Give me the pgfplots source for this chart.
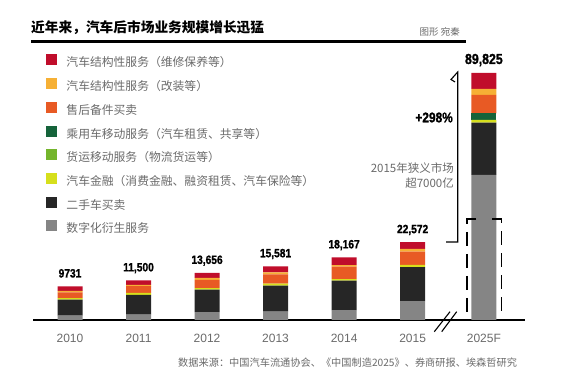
\documentclass[border=0pt]{standalone}
\usepackage{pgfplots}
\pgfplotsset{compat=1.18}
\usepackage{pgfplotstable}
\usepackage{fontspec}
\setmainfont{Noto Sans CJK SC}
\newfontfamily\numfont[FakeStretch=0.85, BoldFeatures={FakeBold=1.2}]{Liberation Sans}
\newfontfamily\latin{Liberation Sans}
\definecolor{cRed}{HTML}{C00D2B}
\definecolor{cYel}{HTML}{F6B035}
\definecolor{cOra}{HTML}{E85A24}
\definecolor{cDGr}{HTML}{15633A}
\definecolor{cGrn}{HTML}{74B52C}
\definecolor{cYG}{HTML}{D6DF1C}
\definecolor{cBlk}{HTML}{262626}
\definecolor{cGry}{HTML}{858585}
\definecolor{txt}{HTML}{6A6A6A}

\pgfplotstableread{
x    gray  black fin grn dgr  ora  yel  red
0    1250  4650  450 0   0    1650 450  1280
1    1550  5750  550 0   0    2000 350  1300
2    2256  6520  500 0   0    2340 580  1460
3    2451  7500  580 0   0    2720 580  1750
4    2887  8500  490 0   0    3570 490  2230
5    5462  9860  670 0   0    3860 780  1940
6.04 42050 15170 780 0   1940 5310 1740 4640
}\data

\begin{document}
\begin{tikzpicture}
\useasboundingbox (0pt,0pt) rectangle (583pt,377pt);
\begin{axis}[
  at={(33pt,57pt)}, anchor=south west,
  scale only axis, width=492pt, height=259.5pt,
  xmin=-0.54, xmax=6.64, ymin=0, ymax=75255,
  enlargelimits=false,
  ybar stacked, bar width=25pt,
  axis x line*=bottom, axis y line=none,
  x axis line style={line width=1.6pt, -},
  xtick={0,1,2,3,4,5,6.04},
  xticklabels={2010,2011,2012,2013,2014,2015,2025F},
  xtick style={draw=none},
  major tick length=0pt,
  xticklabel style={anchor=center, yshift=-18.3pt, font=\latin\fontsize{12}{12}\selectfont, text=txt},
  ytick=\empty,
  clip=false,
  reverse legend,
  legend cell align=left,
  legend style={at={(0.02642,1.0231)}, anchor=north west, draw=none, fill=none,
    inner sep=0pt, outer sep=0pt, row sep=9.2pt, column sep=9.5pt,
    font=\fontsize{11.8}{12}\selectfont, text=txt,
    nodes={inner sep=0pt, text height=8pt, text depth=2pt}},
  legend image code/.code={\fill[#1] (0pt,-1.5pt) rectangle (11pt,9.5pt);},
]
\addplot[fill=cGry, draw=none] table[x=x,y=gray]{\data};
\addlegendentry{数字化衍生服务}
\addplot[fill=cBlk, draw=none] table[x=x,y=black]{\data};
\addlegendentry{二手车买卖}
\addplot[fill=cYG, draw=none] table[x=x,y=fin]{\data};
\addlegendentry{汽车金融（消费金融、融资租赁、汽车保险等）}
\addplot[fill=cGrn, draw=none] table[x=x,y=grn]{\data};
\addlegendentry{货运移动服务（物流货运等）}
\addplot[fill=cDGr, draw=none] table[x=x,y=dgr]{\data};
\addlegendentry{乘用车移动服务（汽车租赁、共享等）}
\addplot[fill=cOra, draw=none] table[x=x,y=ora]{\data};
\addlegendentry{售后备件买卖}
\addplot[fill=cYel, draw=none] table[x=x,y=yel]{\data};
\addlegendentry{汽车结构性服务（改装等）}
\addplot[fill=cRed, draw=none] table[x=x,y=red]{\data};
\addlegendentry{汽车结构性服务（维修保养等）}

\tikzset{vl/.style={anchor=base, yshift=9pt, inner sep=0pt, font=\numfont\bfseries\fontsize{12}{12}\selectfont}}
\node[vl] at (axis cs:0,9731) {9731};
\node[vl] at (axis cs:1,11500) {11,500};
\node[vl] at (axis cs:2,13656) {13,656};
\node[vl] at (axis cs:3,15581) {15,581};
\node[vl] at (axis cs:4,18167) {18,167};
\node[vl] at (axis cs:5,22572) {22,572};
\node[vl, font=\numfont\bfseries\fontsize{14.5}{14.5}\selectfont] at (axis cs:6.04,71630) {89,825};
\end{axis}

% title and rule
\node[anchor=west, inner sep=0pt, font=\bfseries\fontsize{13.7}{14}\selectfont] at (31pt,349.5pt) {近年来，汽车后市场业务规模增长迅猛};
\node[anchor=east, inner sep=0pt, font=\fontsize{9.5}{10}\selectfont, text=txt] at (460pt,345.5pt) {图形 宛秦};
\draw[line width=3pt] (31pt,335.5pt) -- (466pt,335.5pt);

% growth bracket
\draw[line width=1.1pt] (446pt,135pt) -- (457.7pt,135pt) -- (457.7pt,305pt) -- (451pt,297.5pt) -- (455pt,295pt);
\node[anchor=east, inner sep=0pt, font=\numfont\bfseries\fontsize{14}{14}\selectfont] at (453pt,259.5pt) {+298\%};
\node[anchor=east, inner sep=0pt, align=right, font=\fontsize{11.5}{15.5}\selectfont, text=txt] at (454pt,201.5pt) {2015年狭义市场\\超7000亿};

% dashed frame
\draw[line width=1.5pt, dash pattern=on 14pt off 8pt] (476pt,158pt) -- (467pt,158pt) -- (467pt,57pt);
\draw[line width=1.5pt, dash pattern=on 14pt off 8pt] (492pt,158pt) -- (501.5pt,158pt) -- (501.5pt,57pt);

% axis break
\draw[line width=1.1pt] (434.3pt,45.3pt) -- (450pt,65.3pt);
\draw[line width=1.1pt] (441.7pt,45.3pt) -- (456.7pt,65.3pt);

% source
\node[anchor=west, inner sep=0pt, font=\fontsize{10.2}{11}\selectfont, text=txt] at (178pt,14pt) {数据来源：中国汽车流通协会、《中国制造2025》、券商研报、埃森哲研究};
\end{tikzpicture}
\end{document}
